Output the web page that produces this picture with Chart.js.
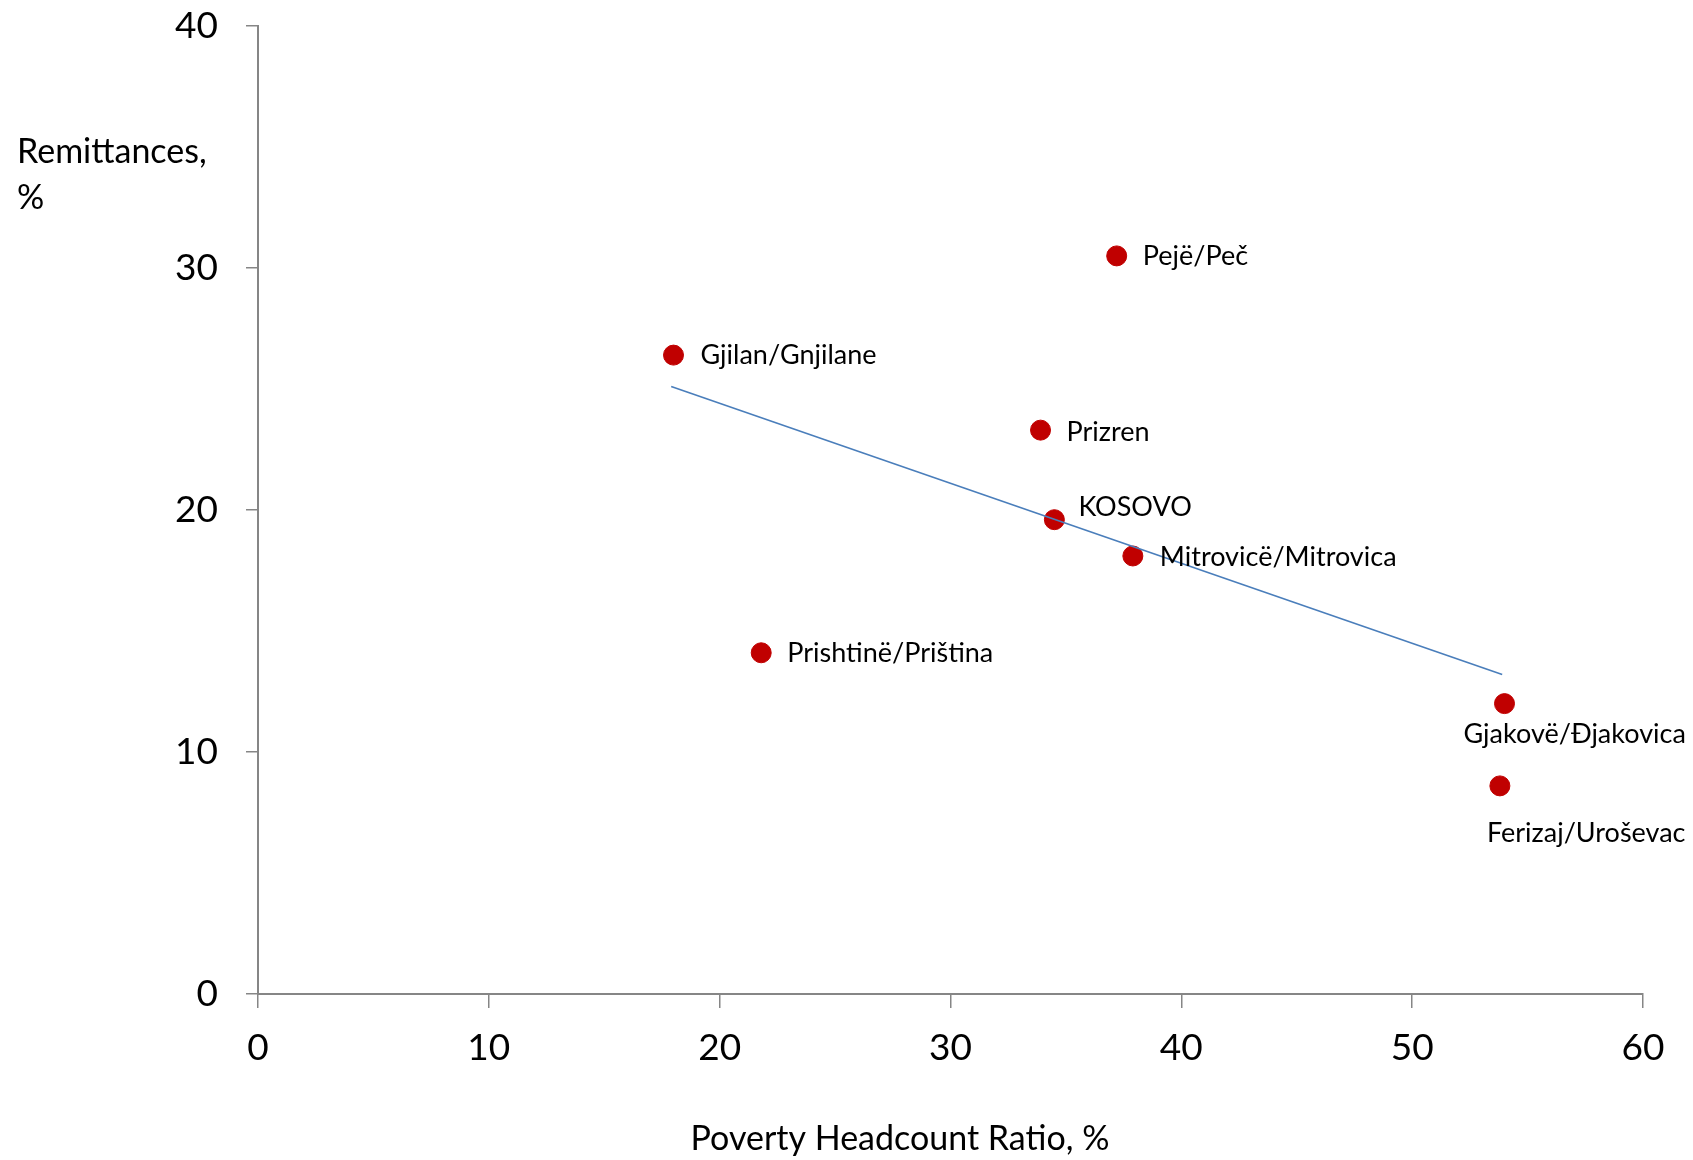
<!DOCTYPE html>
<html>
<head>
<meta charset="utf-8">
<title>Remittances vs Poverty Headcount Ratio</title>
<script src="https://cdn.jsdelivr.net/npm/chart.js@4/dist/chart.umd.min.js"></script>
<style>
  html, body { margin: 0; padding: 0; background: #ffffff; }
  #wrap { width: 1693px; height: 1160px; position: relative; }
</style>
</head>
<body>
<div id="wrap"><canvas id="chart" width="1693" height="1160"></canvas></div>
<script>
// Municipalities: poverty headcount ratio (x) vs remittances (y)
const regions = ["Pejë/Peč", "Gjilan/Gnjilane", "Prizren", "KOSOVO", "Mitrovicë/Mitrovica",
                 "Prishtinë/Priština", "Gjakovë/Đjakovica", "Ferizaj/Uroševac"];
const povertyRatio = [37.2, 18.0, 33.9, 34.5, 37.9, 21.8, 54.0, 53.8];
const remittances = [30.5, 26.4, 23.3, 19.6, 18.1, 14.1, 12.0, 8.6];

// linear trend line, end points
const trendX = [17.9, 53.9];
const trendY = [25.1, 13.2];

const xTicks = [0, 10, 20, 30, 40, 50, 60];
const yTicks = [0, 10, 20, 30, 40];

const xTitle = "Poverty Headcount Ratio, %";
const yTitle = ["Remittances,", "%"];

// label placement around each dot (pixels from the dot centre)
const labelOffsets = [[26, 0], [27, 0], [26, 2], [24, -12], [27, 1], [26, 1], [-41, 31], [-13, 47]];

const FONT = "Lato, 'Open Sans', sans-serif";
const axisGrey = "#868686";

let points = povertyRatio.map((x, i) => ({ x: x, y: remittances[i] }));
let trend = trendX.map((x, i) => ({ x: x, y: trendY[i] }));

const labelPlugin = {
    id: "pointLabels",
    afterDatasetsDraw(chart) {
        let ctx = chart.ctx;
        let meta = chart.getDatasetMeta(1);
        ctx.save();
        ctx.fillStyle = "#000000";
        ctx.font = "27px " + FONT;
        ctx.textAlign = "left";
        ctx.textBaseline = "middle";
        meta.data.forEach((pt, i) => {
            ctx.fillText(regions[i], pt.x + labelOffsets[i][0], pt.y + labelOffsets[i][1]);
        });
        ctx.restore();
    },
    afterDraw(chart) {
        let ctx = chart.ctx;
        ctx.save();
        ctx.fillStyle = "#000000";
        ctx.font = "34px " + FONT;
        ctx.textBaseline = "middle";
        ctx.textAlign = "left";
        ctx.fillText(yTitle[0], 17, 152);
        ctx.fillText(yTitle[1], 17, 198);
        ctx.textAlign = "center";
        ctx.fillText(xTitle, 900, 1139);
        ctx.restore();
    }
};

let ctx = document.getElementById("chart").getContext("2d");
new Chart(ctx, {
    type: "scatter",
    data: {
        datasets: [{
            type: "line",
            data: trend,
            borderColor: "#4A7EBB",
            borderWidth: 1.6,
            pointRadius: 0,
            fill: false,
            showLine: true
        }, {
            data: points,
            backgroundColor: "#C00000",
            borderColor: "#C00000",
            pointRadius: 10,
            pointHoverRadius: 10
        }]
    },
    options: {
        responsive: false,
        animation: false,
        events: [],
        layout: { padding: { left: 0, top: 26, right: 50, bottom: 0 } },
        plugins: {
            legend: { display: false },
            tooltip: { enabled: false }
        },
        scales: {
            x: {
                type: "linear",
                min: 0,
                max: 60,
                afterBuildTicks: scale => { scale.ticks = xTicks.map(v => ({ value: v })); },
                afterFit: scale => { scale.height = 166; scale.paddingLeft = 0; scale.paddingRight = 0; },
                grid: { drawOnChartArea: false, drawTicks: true, tickLength: 14, color: axisGrey, lineWidth: 1.5 },
                border: { color: axisGrey, width: 2 },
                ticks: { color: "#000000", font: { family: FONT, size: 37 }, padding: 18, maxRotation: 0 }
            },
            y: {
                type: "linear",
                min: 0,
                max: 40,
                afterBuildTicks: scale => { scale.ticks = yTicks.map(v => ({ value: v })); },
                afterFit: scale => { scale.width = 258; scale.paddingTop = 0; scale.paddingBottom = 0; },
                grid: { drawOnChartArea: false, drawTicks: true, tickLength: 12, color: axisGrey, lineWidth: 1.5 },
                border: { color: axisGrey, width: 2 },
                ticks: { color: "#000000", font: { family: FONT, size: 37 }, padding: 28 }
            }
        }
    },
    plugins: [labelPlugin]
});
</script>
</body>
</html>
